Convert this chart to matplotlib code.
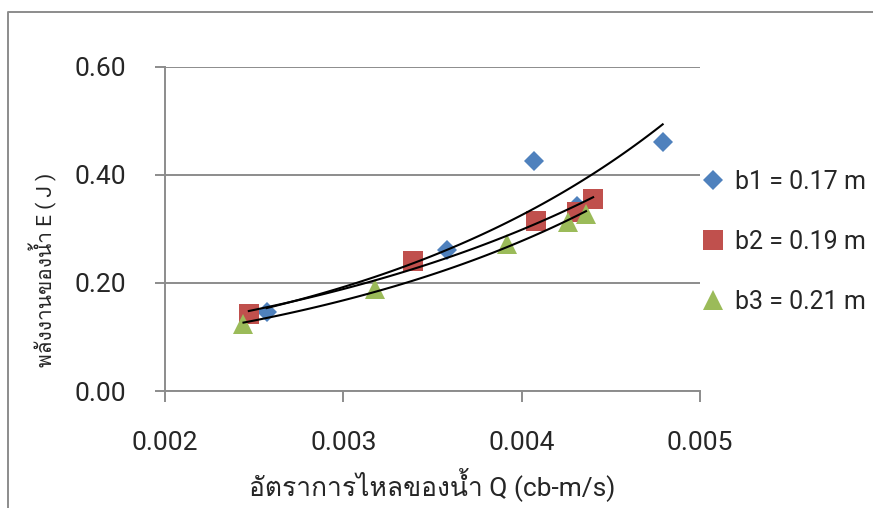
import numpy as np
import matplotlib
matplotlib.use("Agg")
import matplotlib.pyplot as plt
from matplotlib import font_manager
from matplotlib.ft2font import FT2Font
from matplotlib.lines import Line2D

# ข้อมูลที่อ่านจากกราฟ
q_b1 = [0.00257, 0.00358, 0.00407, 0.00431, 0.00479]
e_b1 = [0.146, 0.261, 0.426, 0.343, 0.461]
q_b2 = [0.00247, 0.00339, 0.00408, 0.00431, 0.00440]
e_b2 = [0.143, 0.241, 0.315, 0.331, 0.356]
q_b3 = [0.00244, 0.00318, 0.00392, 0.00426, 0.00436]
e_b3 = [0.124, 0.189, 0.272, 0.313, 0.328]
labels = ["b1 = 0.17 m", "b2 = 0.19 m", "b3 = 0.21 m"]
x_ticks = [0.002, 0.003, 0.004, 0.005]
y_ticks = [0.0, 0.2, 0.4, 0.6]


def find_thai_font():
    for f in font_manager.fontManager.ttflist:
        try:
            ft = FT2Font(f.fname)
            if 0x0E1E in ft.get_charmap():
                return f.name
        except Exception:
            pass
    return None


thai = find_thai_font()
fams = ["Roboto", "DejaVu Sans"]
if thai:
    fams = ["Roboto", thai, "DejaVu Sans"]
plt.rcParams['font.family'] = fams

grey = "#8c8c8c"
txt = "#262626"
fig = plt.figure(figsize=(8.73, 5.08), dpi=100)
ax = fig.add_axes([0.189, 0.2303, 0.613, 0.638])

series = [(q_b1, e_b1, "D", "#4f81bd", 10),
          (q_b2, e_b2, "s", "#c0504d", 15),
          (q_b3, e_b3, "^", "#9bbb59", 15)]
for (q, e, m, c, ms), lab in zip(series, labels):
    q = np.array(q)
    e = np.array(e)
    ax.plot(q, e, linestyle="none", marker=m, color=c, markersize=ms,
            markeredgewidth=0, label=lab, zorder=3)
    # exponential trendline (like Excel)
    b, a = np.polyfit(q, np.log(e), 1)
    xx = np.linspace(q.min(), q.max(), 100)
    ax.plot(xx, np.exp(a) * np.exp(b * xx), color="black", linewidth=1.5,
            zorder=4)

ax.set_xlim(0.002, 0.005)
ax.set_ylim(0, 0.6)
ax.set_xticks(x_ticks)
ax.set_xticklabels(["%.3f" % v for v in x_ticks])
ax.set_yticks(y_ticks)
ax.set_yticklabels(["%.2f" % v for v in y_ticks])
ax.grid(axis="y", color=grey, linewidth=1.4)
ax.set_axisbelow(True)
for s in ["top", "right"]:
    ax.spines[s].set_visible(False)
for s in ["left", "bottom"]:
    ax.spines[s].set_color(grey)
    ax.spines[s].set_linewidth(1.4)
ax.tick_params(axis="y", length=7, width=1.4, color=grey, labelsize=19,
               pad=21, labelcolor=txt)
ax.tick_params(axis="x", length=8, width=1.4, color=grey, labelsize=19,
               pad=21, labelcolor=txt)

ax.set_xlabel("อัตราการไหลของน้ำ Q (cb-m/s)", fontsize=19, color=txt)
ax.xaxis.label.set_va("center")
ax.xaxis.set_label_coords(0.5, (391 - 484) / 324)
ax.set_ylabel("พลังงานของน้ำ E ( J )", fontsize=15, color=txt)
ax.yaxis.label.set_va("center")
ax.yaxis.set_label_coords((43 - 165) / 535, (391 - 270) / 324)

leg = ax.legend(loc="center left", bbox_to_anchor=(1.0, 0.46),
                frameon=False, fontsize=18, labelspacing=1.45,
                handletextpad=0.4, handlelength=1.0, borderaxespad=0,
                borderpad=0)
for t in leg.get_texts():
    t.set_color(txt)

# chart border (left and top)
fx = 8 / 873
fy = 1 - 12 / 508
fig.add_artist(Line2D([fx, fx, 1], [0, fy, fy], color=grey, linewidth=1.4,
                      transform=fig.transFigure))

fig.savefig("out.png", dpi=100)
